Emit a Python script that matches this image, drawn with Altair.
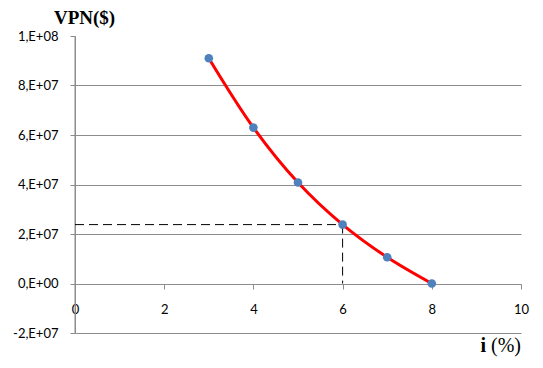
import altair as alt
import pandas as pd

# Data
rates = [3, 4, 5, 6, 7, 8]
vpn = [9.1e7, 6.3e7, 4.08e7, 2.38e7, 1.06e7, 0.0]
x_ticks = [0, 2, 4, 6, 8, 10]
y_ticks = [-2e7, 0, 2e7, 4e7, 6e7, 8e7, 1e8]
ref_rate = [6]
ref_vpn = [2.38e7]
x_title_parts = ["i", "(%)"]

df = pd.DataFrame({"i": rates, "vpn": vpn})
h_ref = pd.DataFrame({"i": [0], "i2": ref_rate, "vpn": ref_vpn})
v_ref = pd.DataFrame({"i": ref_rate, "vpn": ref_vpn, "vpn2": [0]})
y_line = pd.DataFrame({"i": [x_ticks[0]], "vpn": [y_ticks[0]], "vpn2": [y_ticks[-1]]})

xscale = alt.Scale(domain=[0, 10], nice=False)
yscale = alt.Scale(domain=[-2e7, 1e8], nice=False, zero=False)

label_expr = (
    "datum.value == 0 ? '0,E+00' : (datum.value < 0 ? '-' : '') + "
    "toString(round(abs(datum.value)/pow(10, floor(log(abs(datum.value))/LN10 + 1e-9)))) + "
    "',E+0' + toString(floor(log(abs(datum.value))/LN10 + 1e-9))"
)

x_axis = alt.Axis(
    values=x_ticks, title=None, grid=False, offset=-49,
    domain=True, domainColor="#8c8c8c", domainWidth=1,
    tickColor="#8c8c8c", tickSize=5, labelFlush=False,
    labelPadding=14, labelFont="Lato", labelFontSize=13, labelColor="black",
)
y_axis = alt.Axis(
    values=y_ticks, labelExpr=label_expr, grid=True,
    gridColor="#8c8c8c",
    gridOpacity={"condition": {"test": "datum.value >= 100000000", "value": 0}, "value": 1},
    domain=True, domainColor="#8c8c8c", domainWidth=1,
    tickColor="#8c8c8c", tickSize=5,
    labelPadding=12, labelFont="Lato", labelFontSize=13, labelColor="black",
    title="VPN($)", titleAngle=0, titleX=9, titleY=-13, titleAlign="center",
    titleBaseline="alphabetic", titleFont="Liberation Serif", titleFontSize=19,
    titleFontWeight="bold", titleColor="black",
)

X = alt.X("i:Q", scale=xscale, axis=x_axis)
Y = alt.Y("vpn:Q", scale=yscale, axis=y_axis)

yline = alt.Chart(y_line).mark_rule(color="#8c8c8c", strokeWidth=1).encode(
    x=X, y=Y, y2="vpn2:Q",
)
hline = alt.Chart(h_ref).mark_rule(color="black", strokeDash=[9, 5], strokeWidth=1).encode(
    x=X, x2="i2:Q", y=Y,
)
vline = alt.Chart(v_ref).mark_rule(color="black", strokeDash=[9, 5], strokeWidth=1).encode(
    x=X, y=Y, y2="vpn2:Q",
)
line = alt.Chart(df).mark_line(color="#ff0000", strokeWidth=3, interpolate="catmull-rom").encode(
    x=X, y=Y,
)
pts = alt.Chart(df).mark_circle(color="#4F81BD", size=75, opacity=1).encode(
    x=X, y=Y,
)

t_i = alt.Chart(pd.DataFrame({"t": [x_title_parts[0]]})).mark_text(
    font="Liberation Serif", fontSize=20, fontWeight="bold", align="right",
    baseline="alphabetic", color="black",
).encode(text="t:N", x=alt.value(411), y=alt.value(316))
t_pct = alt.Chart(pd.DataFrame({"t": [x_title_parts[1]]})).mark_text(
    font="Liberation Serif", fontSize=20, align="left",
    baseline="alphabetic", color="black",
).encode(text="t:N", x=alt.value(416), y=alt.value(316))

chart = alt.layer(yline, hline, vline, line, pts, t_i, t_pct).properties(
    width=446, height=297, background="white",
    autosize=alt.AutoSizeParams(type="none"),
    padding={"left": 67, "top": 28, "right": 12, "bottom": 24},
).configure_view(stroke=None)

chart.save("out.html", embed_options={"renderer": "svg", "actions": False})
